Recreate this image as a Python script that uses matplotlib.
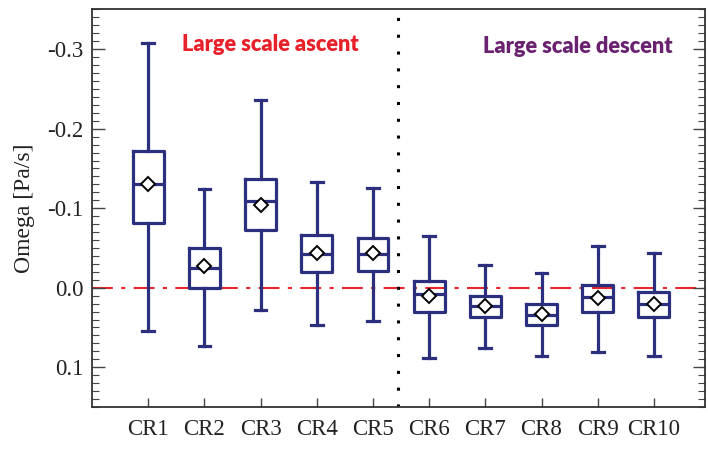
import numpy as np
import matplotlib
matplotlib.use("Agg")
import matplotlib.pyplot as plt
from matplotlib.ticker import MultipleLocator, FormatStrFormatter

plt.rcParams['axes.unicode_minus'] = False

# box statistics (omega, Pa/s)
regimes = ["CR1", "CR2", "CR3", "CR4", "CR5", "CR6", "CR7", "CR8", "CR9", "CR10"]
whisk_lo = [-0.308, -0.124, -0.236, -0.133, -0.126, -0.065, -0.029, -0.018, -0.053, -0.044]
q1 = [-0.172, -0.050, -0.137, -0.066, -0.063, -0.008, 0.011, 0.021, -0.003, 0.005]
med = [-0.130, -0.025, -0.109, -0.043, -0.042, 0.008, 0.023, 0.034, 0.012, 0.020]
q3 = [-0.082, 0.000, -0.072, -0.020, -0.021, 0.031, 0.037, 0.047, 0.031, 0.037]
whisk_hi = [0.055, 0.073, 0.028, 0.047, 0.042, 0.088, 0.076, 0.086, 0.081, 0.086]
means = [-0.131, -0.027, -0.104, -0.044, -0.044, 0.010, 0.023, 0.033, 0.013, 0.020]

navy = "#2B2F7E"

stats = []
for i in range(len(regimes)):
    stats.append(dict(label=regimes[i], whislo=whisk_lo[i], q1=q1[i], med=med[i],
                      q3=q3[i], whishi=whisk_hi[i], mean=means[i], fliers=[]))

fig = plt.figure(figsize=(7.08, 4.5), dpi=100)
ax = fig.add_axes([0.130, 0.0956, 0.8658, 0.8834])

# zero line and regime separator
ax.axhline(0, color="#E8262B", lw=1.5, dashes=(10, 4, 2, 4), zorder=1)
ax.axvline(5.45, color="black", lw=2.2, linestyle=(0, (1, 4.5)), zorder=1)

pos = np.arange(1, len(regimes) + 1)
ax.bxp(stats, positions=pos, widths=0.55, capwidths=0.21, showmeans=True,
       showfliers=False, patch_artist=False,
       boxprops=dict(color=navy, lw=2.3),
       whiskerprops=dict(color=navy, lw=2.3),
       capprops=dict(color=navy, lw=2.3),
       medianprops=dict(color=navy, lw=2.3),
       meanprops=dict(marker="D", markerfacecolor="white", markeredgecolor="black",
                      markersize=7, markeredgewidth=1.4),
       zorder=3)

ax.set_xlim(0, 10.91)
ax.set_ylim(0.15, -0.35)

ax.yaxis.set_major_locator(MultipleLocator(0.1))
ax.yaxis.set_minor_locator(MultipleLocator(0.01))
ax.yaxis.set_major_formatter(FormatStrFormatter('%.1f'))
ax.set_xticks(pos)
ax.set_xticklabels(regimes)

ax.tick_params(axis='y', which='major', direction='in', length=9, width=1.0,
               right=True, labelsize=16.5, pad=6, color="#444444")
ax.tick_params(axis='y', which='minor', direction='in', length=5, width=0.8,
               right=True, color="#444444")
ax.tick_params(axis='x', which='major', direction='in', length=6.5, width=1.0,
               top=False, labelsize=16.5, pad=9, color="#444444")
for lab in ax.get_xticklabels() + ax.get_yticklabels():
    lab.set_family("Liberation Serif")
    lab.set_color("#222222")

for s in ax.spines.values():
    s.set_linewidth(1.3)
    s.set_color("#333333")

ax.set_ylabel("Omega [Pa/s]", family="Liberation Serif", fontsize=17,
              color="#222222", labelpad=9)

ax.text(1.6, -0.306, "Large scale ascent", color="#E8202A", fontsize=15.7,
        fontweight="heavy", family="Lato", ha="left", va="center")
ax.text(6.96, -0.303, "Large scale descent", color="#6A2270", fontsize=15.7,
        fontweight="heavy", family="Lato", ha="left", va="center")

fig.savefig("out.png", dpi=100)
